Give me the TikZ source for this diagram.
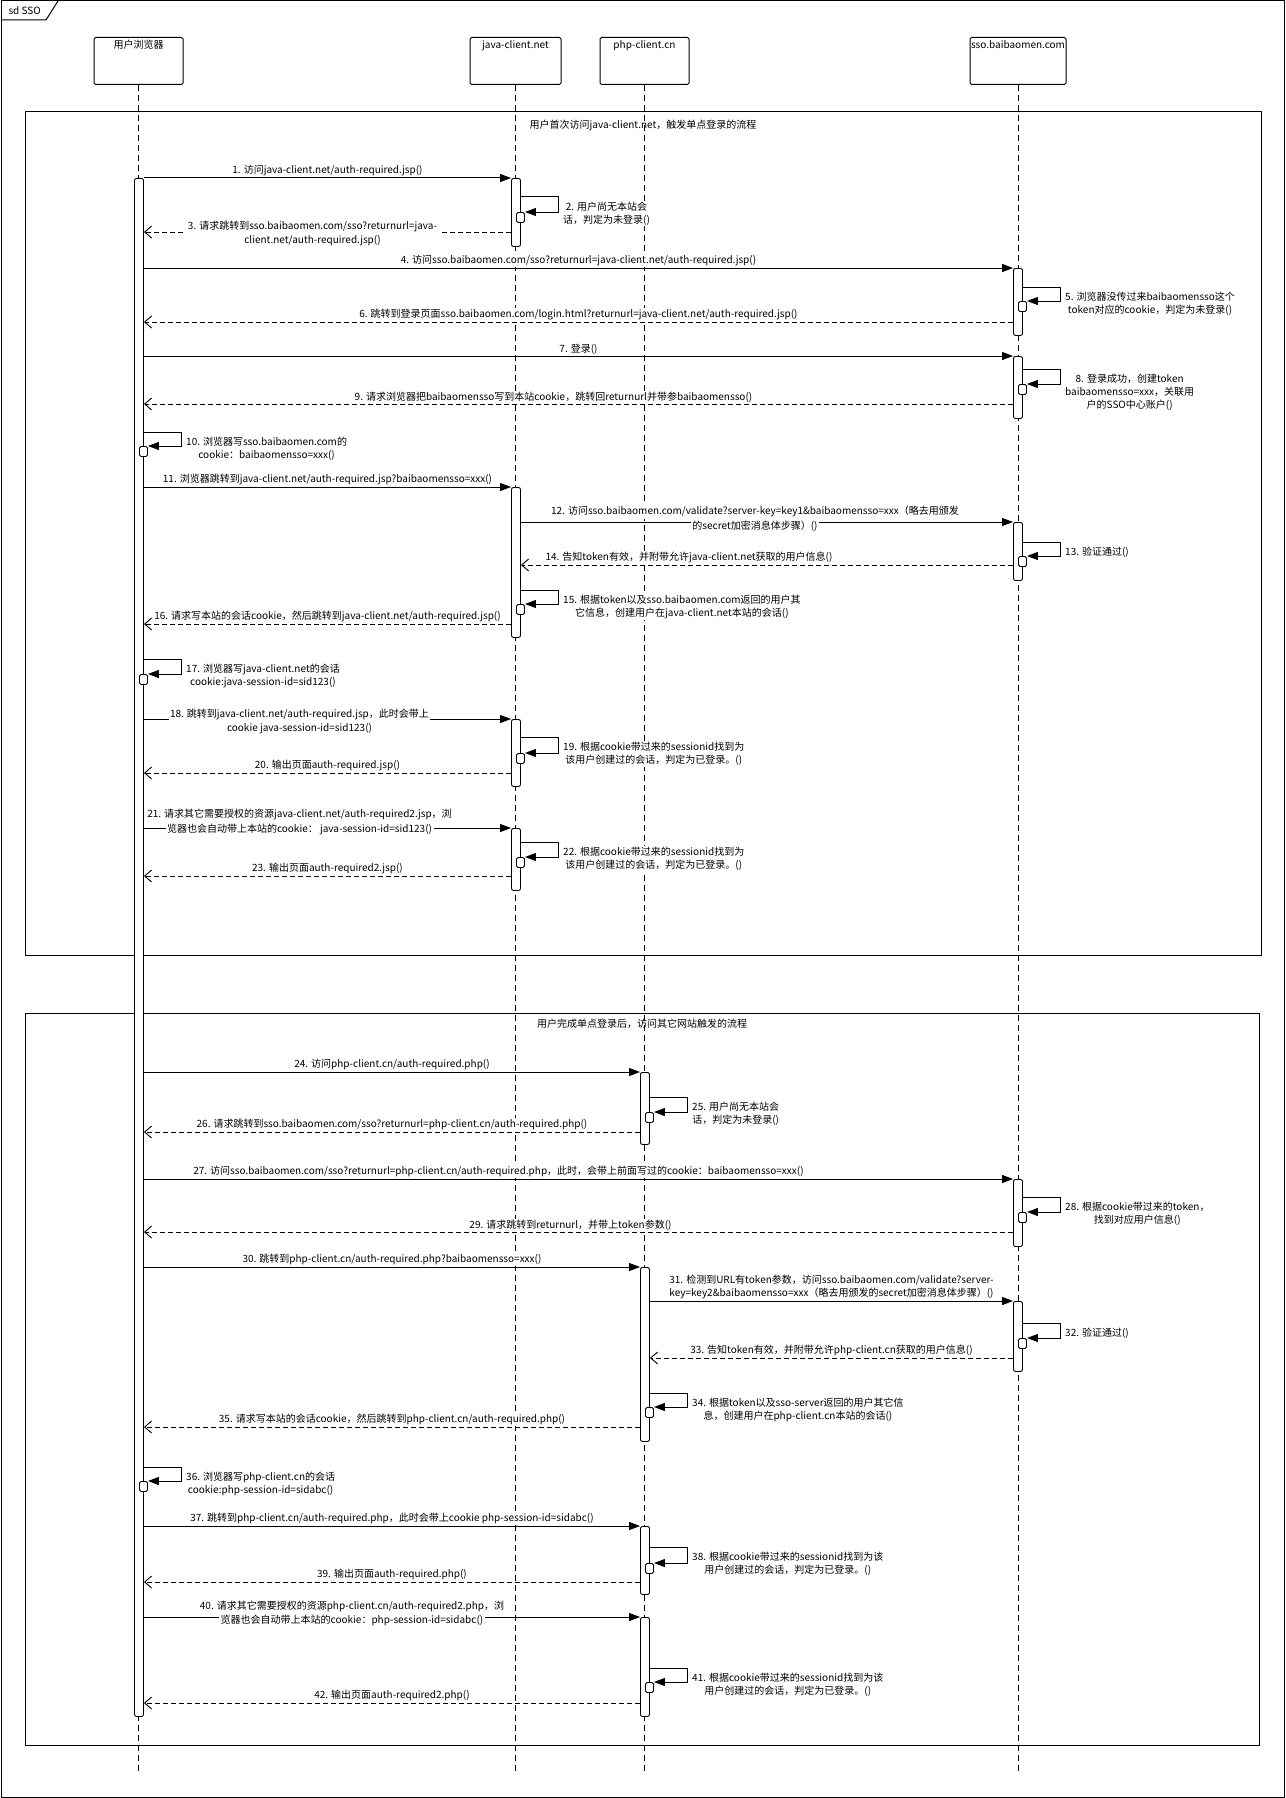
\documentclass[tikz,border=0pt]{standalone}
\usepackage{fontspec}
\setmainfont{Noto Sans CJK SC}
\usepackage{tikz}
\usetikzlibrary{arrows.meta}
% one text line with its own white ground
\newcommand{\wl}[1]{{\setlength{\fboxsep}{1.5pt}\colorbox{white}{#1}}}

\begin{document}
\begin{tikzpicture}[
  x=1pt, y=-1pt,
  every node/.style={font=\fontsize{10}{13}\selectfont},
  lifebox/.style={
    draw, line width=1pt, rounded corners=1.5pt,
    minimum width=89pt, inner sep=0pt,
    text height=11pt, text depth=36pt, anchor=north
  },
  lifeline/.style={dash pattern=on 6pt off 4pt, line width=0.8pt},
  actbar/.style={
    draw, fill=white, rounded corners=2pt, line width=0.9pt,
    minimum width=9pt, inner sep=0pt, anchor=north
  },
  minibar/.style={
    draw, fill=white, rounded corners=1.5pt, line width=0.9pt,
    minimum width=8pt, minimum height=10pt, inner sep=0pt, anchor=north
  },
  call/.style={-{Triangle[length=11pt, width=8pt]}, line width=1pt},
  reply/.style={
    -{Straight Barb[length=7pt, width=12pt]},
    dash pattern=on 5pt off 3pt, line width=0.9pt
  },
  msglbl/.style={fill=white, inner sep=1pt, align=center},
  msgwrap/.style={inner sep=0pt, align=center},
  selflbl/.style={msglbl, anchor=north west},
  fragbox/.style={draw, line width=1pt},
]
\useasboundingbox (0,0) rectangle (1285,1798);

% === FRAME ===
\draw[line width=1pt] (1,1) rectangle (1284,1797);
\draw[line width=1pt] (1,20) -- (46,20) -- (58,1);
\node[anchor=west] (sd) at (5,10.5) {sd SSO};

% === PARTICIPANTS ===
\node[lifebox] (brw) at (138.5,37) {用户浏览器};
\node[lifebox, minimum width=91pt] (jav) at (515.5,37) {java-client.net};
\node[lifebox] (php) at (644.5,37) {php-client.cn};
\node[lifebox, minimum width=96pt] (sso) at (1018,37) {sso.baibaomen.com};

\foreach \p in {brw, jav, php, sso}
  \draw[lifeline] (\p.south) -- (\p.south |- 0,1771);

% === FRAGMENTS ===
\draw[fragbox] (25,112) rectangle (1261,955);
\node (f1) at (643,125) {用户首次访问java-client.net，触发单点登录的流程};
\draw[fragbox] (25,1013) rectangle (1259,1745);
\node (f2) at (642,1024) {用户完成单点登录后，访问其它网站触发的流程};

% === ACTIVATIONS ===
\node[actbar, minimum height=1538pt] (bb) at (139,178) {};
\node[actbar, minimum height=68pt] (j1) at (516,178) {};
\node[actbar, minimum height=150pt] (j2) at (516,487) {};
\node[actbar, minimum height=67pt] (j3) at (516,719) {};
\node[actbar, minimum height=62pt] (j4) at (516,828) {};
\node[actbar, minimum height=67pt] (s1) at (1018,268) {};
\node[actbar, minimum height=62pt] (s2) at (1018,356) {};
\node[actbar, minimum height=58pt] (s3) at (1018,522) {};
\node[actbar, minimum height=67pt] (s4) at (1018,1179) {};
\node[actbar, minimum height=70pt] (s5) at (1018,1301) {};
\node[actbar, minimum height=72pt] (p1) at (645,1072) {};
\node[actbar, minimum height=174pt] (p2) at (645,1267) {};
\node[actbar, minimum height=68pt] (p3) at (645,1526) {};
\node[actbar, minimum height=99pt] (p4) at (645,1617) {};

% === FIRST VISIT: java-client.net ===
\draw[call] (bb.east |- 0,178) -- (j1.west |- 0,178)
  node[msglbl, midway, above=0.5pt] (l1) {1. 访问java-client.net/auth-required.jsp()};
\node[minibar] (m2) at (520.5,212) {};
\draw[call] (j1.east |- 0,197) -- ++(38,0) |- (m2.north east);
\node[selflbl] (t2) at (562,200.5) {2. 用户尚无本站会\\话，判定为未登录()};
\draw[reply] (j1.west |- 0,232) -- (bb.east |- 0,232)
  node[msgwrap, midway, xshift=-15pt, yshift=-1.5pt] (l3) {\wl{3. 请求跳转到sso.baibaomen.com/sso?returnurl=java-}\\\wl{client.net/auth-required.jsp()}};
\draw[call] (bb.east |- 0,268) -- (s1.west |- 0,268)
  node[msglbl, midway, above=0.5pt] (l4) {4. 访问sso.baibaomen.com/sso?returnurl=java-client.net/auth-required.jsp()};
\node[minibar] (m5) at (1022.5,301) {};
\draw[call] (s1.east |- 0,287) -- ++(38,0) |- (m5.north east);
\node[selflbl] (t5) at (1064,290.5) {5. 浏览器没传过来baibaomensso这个\\token对应的cookie，判定为未登录()};
\draw[reply] (s1.west |- 0,322) -- (bb.east |- 0,322)
  node[msglbl, midway, above=0.5pt] (l6) {6. 跳转到登录页面sso.baibaomen.com/login.html?returnurl=java-client.net/auth-required.jsp()};
\draw[call] (bb.east |- 0,356) -- (s2.west |- 0,356)
  node[msglbl, midway, above=0.5pt] (l7) {7. 登录()};
\node[minibar] (m8) at (1022.5,384) {};
\draw[call] (s2.east |- 0,369) -- ++(38,0) |- (m8.north east);
\node[selflbl] (t8) at (1064,372.5) {8. 登录成功，创建token\\baibaomensso=xxx，关联用\\户的SSO中心账户()};
\draw[reply] (s2.west |- 0,404) -- (bb.east |- 0,404)
  node[msglbl, midway, above=0.5pt, xshift=-25pt] (l9) {9. 请求浏览器把baibaomensso写到本站cookie，跳转回returnurl并带参baibaomensso()};
\node[minibar] (m10) at (143.5,446) {};
\draw[call] (bb.east |- 0,432) -- ++(38,0) |- (m10.north east);
\node[selflbl] (t10) at (185,435.5) {10. 浏览器写sso.baibaomen.com的\\cookie：baibaomensso=xxx()};
\draw[call] (bb.east |- 0,487) -- (j2.west |- 0,487)
  node[msglbl, midway, above=0.5pt] (l11) {11. 浏览器跳转到java-client.net/auth-required.jsp?baibaomensso=xxx()};
\draw[call] (j2.east |- 0,522) -- (s3.west |- 0,522)
  node[msgwrap, midway, xshift=-12pt, yshift=3pt] (l12) {\wl{12. 访问sso.baibaomen.com/validate?server-key=key1\&baibaomensso=xxx（略去用颁发}\\\wl{的secret加密消息体步骤）()}};
\node[minibar] (m13) at (1022.5,556) {};
\draw[call] (s3.east |- 0,542) -- ++(38,0) |- (m13.north east);
\node[selflbl] (t13) at (1064,545.5) {13. 验证通过()};
\draw[reply] (s3.west |- 0,565) -- (j2.east |- 0,565)
  node[msglbl, midway, above=0.5pt, xshift=-78pt] (l14) {14. 告知token有效，并附带允许java-client.net获取的用户信息()};
\node[minibar] (m15) at (520.5,604) {};
\draw[call] (j2.east |- 0,590) -- ++(38,0) |- (m15.north east);
\node[selflbl] (t15) at (562,593.5) {15. 根据token以及sso.baibaomen.com返回的用户其\\它信息，创建用户在java-client.net本站的会话()};
\draw[reply] (j2.west |- 0,624) -- (bb.east |- 0,624)
  node[msglbl, midway, above=0.5pt] (l16) {16. 请求写本站的会话cookie，然后跳转到java-client.net/auth-required.jsp()};
\node[minibar] (m17) at (143.5,674) {};
\draw[call] (bb.east |- 0,659) -- ++(38,0) |- (m17.north east);
\node[selflbl] (t17) at (185,662.5) {17. 浏览器写java-client.net的会话\\cookie:java-session-id=sid123()};
\draw[call] (bb.east |- 0,719) -- (j3.west |- 0,719)
  node[msgwrap, midway, xshift=-28pt, yshift=-2.5pt] (l18) {\wl{18. 跳转到java-client.net/auth-required.jsp，此时会带上}\\\wl{cookie java-session-id=sid123()}};
\node[minibar] (m19) at (520.5,753) {};
\draw[call] (j3.east |- 0,737.5) -- ++(38,0) |- (m19.north east);
\node[selflbl] (t19) at (562,741) {19. 根据cookie带过来的sessionid找到为\\该用户创建过的会话，判定为已登录。()};
\draw[reply] (j3.west |- 0,773) -- (bb.east |- 0,773)
  node[msglbl, midway, above=0.5pt] (l20) {20. 输出页面auth-required.jsp()};
\draw[call] (bb.east |- 0,828) -- (j4.west |- 0,828)
  node[msgwrap, midway, xshift=-28pt, yshift=6pt] (l21) {\wl{21. 请求其它需要授权的资源java-client.net/auth-required2.jsp，浏}\\\wl{览器也会自动带上本站的cookie： java-session-id=sid123()}};
\node[minibar] (m22) at (520.5,857) {};
\draw[call] (j4.east |- 0,842) -- ++(38,0) |- (m22.north east);
\node[selflbl] (t22) at (562,845.5) {22. 根据cookie带过来的sessionid找到为\\该用户创建过的会话，判定为已登录。()};
\draw[reply] (j4.west |- 0,876) -- (bb.east |- 0,876)
  node[msglbl, midway, above=0.5pt] (l23) {23. 输出页面auth-required2.jsp()};

% === SECOND SITE: php-client.cn ===
\draw[call] (bb.east |- 0,1072) -- (p1.west |- 0,1072)
  node[msglbl, midway, above=0.5pt] (l24) {24. 访问php-client.cn/auth-required.php()};
\node[minibar] (m25) at (649.5,1112) {};
\draw[call] (p1.east |- 0,1097) -- ++(38,0) |- (m25.north east);
\node[selflbl] (t25) at (691,1100.5) {25. 用户尚无本站会\\话，判定为未登录()};
\draw[reply] (p1.west |- 0,1132) -- (bb.east |- 0,1132)
  node[msglbl, midway, above=0.5pt] (l26) {26. 请求跳转到sso.baibaomen.com/sso?returnurl=php-client.cn/auth-required.php()};
\draw[call] (bb.east |- 0,1179) -- (s4.west |- 0,1179)
  node[msglbl, midway, above=0.5pt, xshift=-80pt] (l27) {27. 访问sso.baibaomen.com/sso?returnurl=php-client.cn/auth-required.php，此时，会带上前面写过的cookie：baibaomensso=xxx()};
\node[minibar] (m28) at (1022.5,1212) {};
\draw[call] (s4.east |- 0,1197) -- ++(38,0) |- (m28.north east);
\node[selflbl] (t28) at (1064,1200.5) {28. 根据cookie带过来的token，\\找到对应用户信息()};
\draw[reply] (s4.west |- 0,1232) -- (bb.east |- 0,1232)
  node[msglbl, midway, above=0.5pt, xshift=-8pt] (l29) {29. 请求跳转到returnurl，并带上token参数()};
\draw[call] (bb.east |- 0,1267) -- (p2.west |- 0,1267)
  node[msglbl, midway, above=0.5pt] (l30) {30. 跳转到php-client.cn/auth-required.php?baibaomensso=xxx()};
\draw[call] (p2.east |- 0,1301) -- (s5.west |- 0,1301)
  node[msglbl, midway, above=0.5pt] (l31) {31. 检测到URL有token参数，访问sso.baibaomen.com/validate?server-\\key=key2\&baibaomensso=xxx（略去用颁发的secret加密消息体步骤）()};
\node[minibar] (m32) at (1022.5,1338) {};
\draw[call] (s5.east |- 0,1323) -- ++(38,0) |- (m32.north east);
\node[selflbl] (t32) at (1064,1326.5) {32. 验证通过()};
\draw[reply] (s5.west |- 0,1358) -- (p2.east |- 0,1358)
  node[msglbl, midway, above=0.5pt] (l33) {33. 告知token有效，并附带允许php-client.cn获取的用户信息()};
\node[minibar] (m34) at (649.5,1407) {};
\draw[call] (p2.east |- 0,1393) -- ++(38,0) |- (m34.north east);
\node[selflbl] (t34) at (691,1396.5) {34. 根据token以及sso-server返回的用户其它信\\息，创建用户在php-client.cn本站的会话()};
\draw[reply] (p2.west |- 0,1427) -- (bb.east |- 0,1427)
  node[msglbl, midway, above=0.5pt] (l35) {35. 请求写本站的会话cookie，然后跳转到php-client.cn/auth-required.php()};
\node[minibar] (m36) at (143.5,1481) {};
\draw[call] (bb.east |- 0,1467) -- ++(38,0) |- (m36.north east);
\node[selflbl] (t36) at (185,1470.5) {36. 浏览器写php-client.cn的会话\\cookie:php-session-id=sidabc()};
\draw[call] (bb.east |- 0,1526) -- (p3.west |- 0,1526)
  node[msglbl, midway, above=0.5pt] (l37) {37. 跳转到php-client.cn/auth-required.php，此时会带上cookie php-session-id=sidabc()};
\node[minibar] (m38) at (649.5,1563) {};
\draw[call] (p3.east |- 0,1547.5) -- ++(38,0) |- (m38.north east);
\node[selflbl] (t38) at (691,1551) {38. 根据cookie带过来的sessionid找到为该\\用户创建过的会话，判定为已登录。()};
\draw[reply] (p3.west |- 0,1582) -- (bb.east |- 0,1582)
  node[msglbl, midway, above=0.5pt] (l39) {39. 输出页面auth-required.php()};
\draw[call] (bb.east |- 0,1617) -- (p4.west |- 0,1617)
  node[msgwrap, midway, xshift=-40pt, yshift=3.5pt] (l40) {\wl{40. 请求其它需要授权的资源php-client.cn/auth-required2.php，浏}\\\wl{览器也会自动带上本站的cookie：php-session-id=sidabc()}};
\node[minibar] (m41) at (649.5,1682) {};
\draw[call] (p4.east |- 0,1668) -- ++(38,0) |- (m41.north east);
\node[selflbl] (t41) at (691,1671.5) {41. 根据cookie带过来的sessionid找到为该\\用户创建过的会话，判定为已登录。()};
\draw[reply] (p4.west |- 0,1703) -- (bb.east |- 0,1703)
  node[msglbl, midway, above=0.5pt] (l42) {42. 输出页面auth-required2.php()};

\end{tikzpicture}
\end{document}
